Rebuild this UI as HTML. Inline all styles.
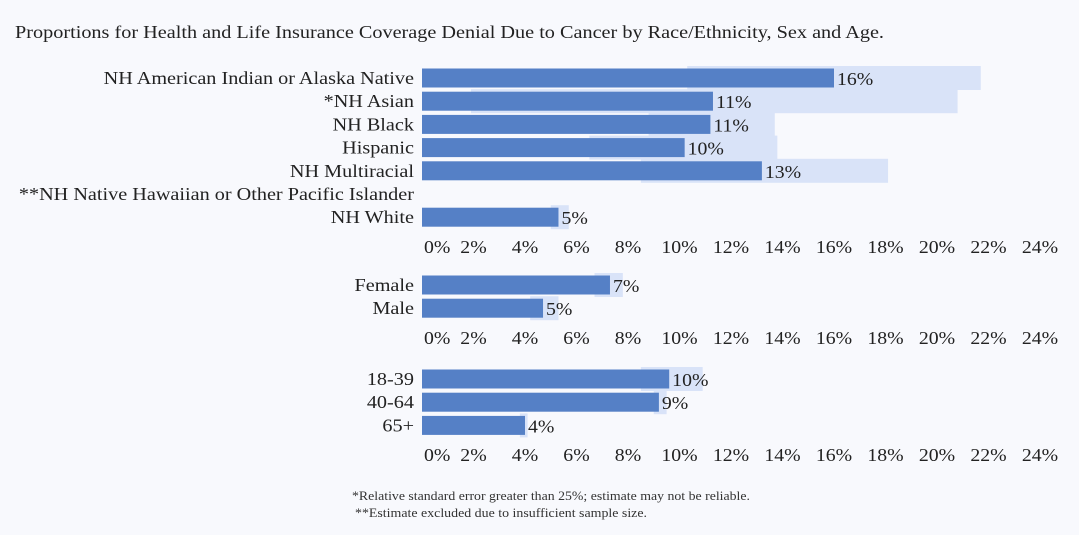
<!DOCTYPE html>
<html><head><meta charset="utf-8"><style>
body{margin:0;background:#f8f9fd;}
svg{display:block;font-family:"Liberation Serif",serif;}
</style></head><body>
<svg id="chart" width="1079" height="535">
<rect width="1079" height="535" fill="#f8f9fd"/>
<text x="15" y="38" font-size="18" fill="#222" textLength="869" lengthAdjust="spacingAndGlyphs">Proportions for Health and Life Insurance Coverage Denial Due to Cancer by Race/Ethnicity, Sex and Age.</text>
<g id="plot"></g>
<text x="352" y="500" font-size="12.5" fill="#333" textLength="398" lengthAdjust="spacingAndGlyphs">*Relative standard error greater than 25%; estimate may not be reliable.</text>
<text x="355" y="517" font-size="12.5" fill="#333" textLength="292" lengthAdjust="spacingAndGlyphs">**Estimate excluded due to insufficient sample size.</text>
</svg>
<script>
const raceCats = ["NH American Indian or Alaska Native","*NH Asian","NH Black","Hispanic","NH Multiracial","**NH Native Hawaiian or Other Pacific Islander","NH White"];
const raceVals = [16.0,11.3,11.2,10.2,13.2,null,5.3];
const raceLo = [10.3,1.9,8.8,6.5,8.5,null,5.0];
const raceHi = [21.7,20.8,13.7,13.8,18.1,null,5.7];
const raceLabels = ["16%","11%","11%","10%","13%","","5%"];
const sexCats = ["Female","Male"];
const sexVals = [7.3,4.7];
const sexLo = [6.7,4.2];
const sexHi = [7.8,5.3];
const sexLabels = ["7%","5%"];
const ageCats = ["18-39","40-64","65+"];
const ageVals = [9.6,9.2,4.0];
const ageLo = [8.5,9.0,3.8];
const ageHi = [10.9,9.5,4.1];
const ageLabels = ["10%","9%","4%"];
const ticks = [0,2,4,6,8,10,12,14,16,18,20,22,24];

const NS="http://www.w3.org/2000/svg";
const plot=document.getElementById('plot');
const x0=422, pxPer=25.75, WIDEN=1.155;
function xs(v){return x0+v*pxPer;}
function mk(tag,attrs){const e=document.createElementNS(NS,tag);for(const k in attrs)e.setAttribute(k,attrs[k]);plot.appendChild(e);return e;}
function widen(t,f){const w=t.getComputedTextLength();if(w>0){t.setAttribute('textLength',w*f);t.setAttribute('lengthAdjust','spacingAndGlyphs');}}
function panel(key,cats,vals,lo,hi,labels,yStart,tickY){
  cats.forEach((c,i)=>{
    const yc=yStart+i*23.2;
    const t=mk('text',{x:414,y:yc+6,'font-size':17.5,fill:'#222','text-anchor':'end'});
    t.textContent=c;
    
    
    widen(t,WIDEN);
    if(vals[i]==null) return;
    const ci=mk('rect',{x:xs(lo[i]),y:yc-12,width:xs(hi[i])-xs(lo[i]),height:24,fill:'#d9e3f8'});
    
    
    const b=mk('rect',{x:xs(0),y:yc-9.5,width:xs(vals[i])-xs(0),height:19,fill:'#5580c6'});
    
    
    const l=mk('text',{x:xs(vals[i])+3,y:yc+7,'font-size':17.5,fill:'#222'});
    l.textContent=labels[i];
    
    
    widen(l,1.13);
  });
  ticks.forEach(v=>{
    const t=mk('text',{x:v===0?424:xs(v),y:tickY,'font-size':17.5,fill:'#222','text-anchor':v===0?'start':'middle'});
    t.textContent=v+'%';
    
    
    widen(t,1.13);
  });
}
panel('race',raceCats,raceVals,raceLo,raceHi,raceLabels,78,253);
panel('sex',sexCats,sexVals,sexLo,sexHi,sexLabels,285,344);
panel('age',ageCats,ageVals,ageLo,ageHi,ageLabels,379,461);
</script>
</body></html>
